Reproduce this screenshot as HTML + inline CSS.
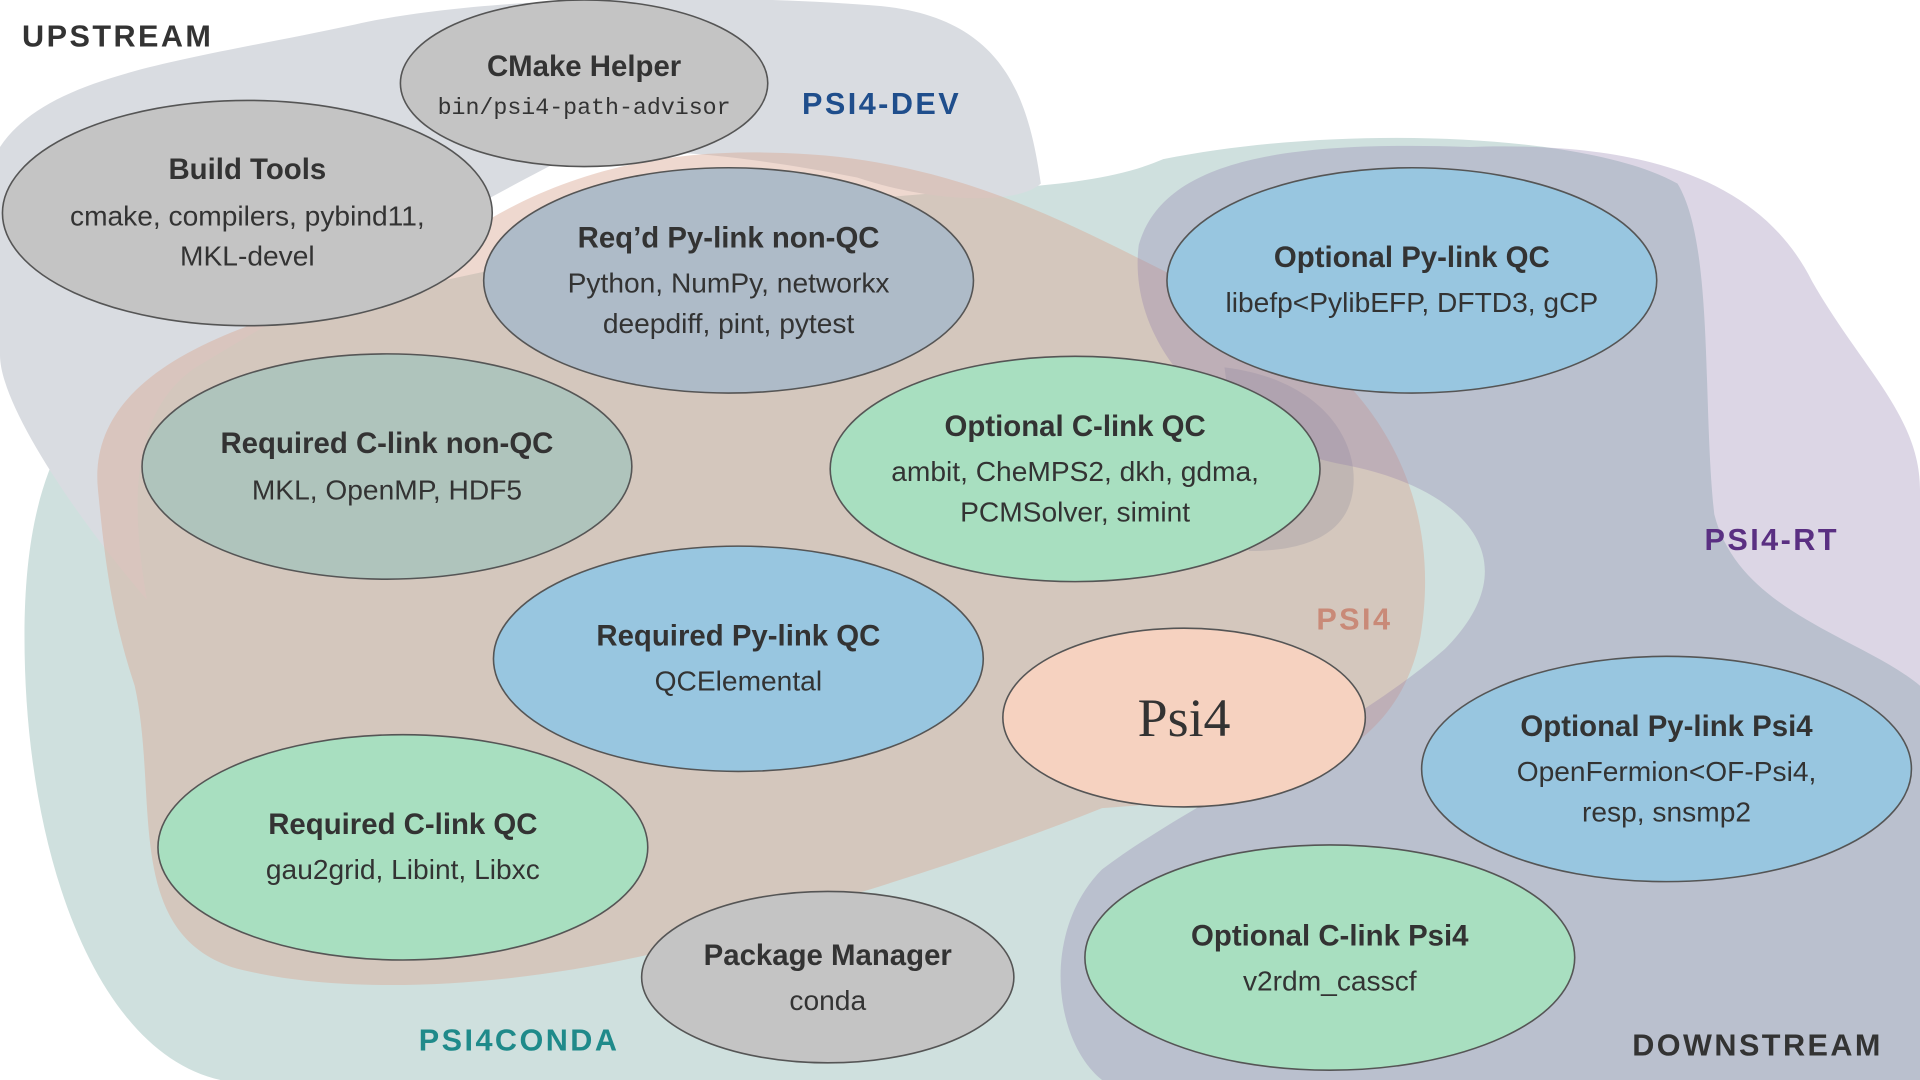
<!DOCTYPE html>
<html><head><meta charset="utf-8"><style>
html,body{margin:0;padding:0;width:1920px;height:1080px;overflow:hidden;background:#fff}
svg{display:block}
text{font-family:"Liberation Sans",sans-serif}
.t{font-weight:bold;font-size:24px;fill:#333;text-anchor:middle}
.b{font-size:23px;fill:#333;text-anchor:middle}
.m{font-family:"Liberation Mono",monospace;font-size:19px;fill:#333;text-anchor:middle}
.l{font-weight:bold;font-size:25px;letter-spacing:2px}
ellipse{stroke:#555;stroke-width:1.3}
</style></head><body>
<svg width="1920" height="1080" viewBox="0 0 1568 882" preserveAspectRatio="none">
<rect width="1568" height="882" fill="#fff"/>
<!-- PSI4CONDA teal -->
<path d="M20,520 C20,400 50,320 140,280 C300,240 500,200 650,170 C780,150 880,160 950,130 C1100,100 1300,110 1370,150 C1400,200 1390,330 1400,420 C1420,500 1520,520 1568,560 L1568,882 L180,882 C80,860 20,700 20,520 Z" fill="#cfe0de"/>
<!-- PSI4-DEV gray -->
<path d="M0,120 C40,60 150,50 290,20 C400,-5 600,-5 720,5 C820,15 840,80 850,150 C830,168 760,165 700,145 C600,125 520,120 470,125 C380,170 260,240 160,300 C100,340 110,430 120,490 C60,420 0,330 0,290 Z" fill="#d9dce1"/>
<!-- PSI4 salmon -->
<path d="M80,400 C70,300 200,260 330,230 C420,150 520,120 640,125 C800,130 900,200 1010,250 C1120,300 1180,400 1160,520 C1140,620 1050,650 900,660 C800,700 700,730 600,760 C480,800 300,820 190,790 C100,760 130,650 110,560 C90,500 85,450 80,400 Z" fill="#d9a894" fill-opacity="0.45"/>
<!-- gray patch near opt C-link QC -->
<path d="M1000,300 C1080,310 1110,360 1105,400 C1100,440 1060,450 1020,450 Z" fill="#a8a2a6" fill-opacity="0.45"/>
<!-- PSI4-RT purple -->
<path d="M930,200 C950,130 1050,115 1200,120 C1350,115 1440,150 1480,230 C1520,300 1568,340 1568,400 L1568,882 L900,882 C860,850 850,760 900,710 C980,650 1100,600 1180,530 C1250,460 1200,400 1100,380 C990,360 920,280 930,200 Z" fill="#8a76a8" fill-opacity="0.3"/>

<text class="l" x="18" y="38" fill="#333">UPSTREAM</text>
<text class="l" x="655" y="93" fill="#1f4e8c">PSI4-DEV</text>
<text class="l" x="1075" y="514" fill="#c98a78">PSI4</text>
<text class="l" x="1392" y="449" fill="#5a2f82">PSI4-RT</text>
<text class="l" x="342" y="858" fill="#1f8a8a">PSI4CONDA</text>
<text class="l" x="1333" y="862" fill="#333">DOWNSTREAM</text>

<ellipse cx="477" cy="68" rx="150" ry="68" fill="#c4c4c4"/>
<text class="t" x="477" y="62">CMake Helper</text>
<text class="m" x="477" y="93">bin/psi4-path-advisor</text>

<ellipse cx="202" cy="174" rx="200" ry="92" fill="#c4c4c4"/>
<text class="t" x="202" y="146">Build Tools</text>
<text class="b" x="202" y="184">cmake, compilers, pybind11,</text>
<text class="b" x="202" y="217">MKL-devel</text>

<ellipse cx="595" cy="229" rx="200" ry="92" fill="#aebbc8"/>
<text class="t" x="595" y="202">Req’d Py-link non-QC</text>
<text class="b" x="595" y="239">Python, NumPy, networkx</text>
<text class="b" x="595" y="272">deepdiff, pint, pytest</text>

<ellipse cx="1153" cy="229" rx="200" ry="92" fill="#98c6e0"/>
<text class="t" x="1153" y="218">Optional Py-link QC</text>
<text class="b" x="1153" y="255">libefp&lt;PylibEFP, DFTD3, gCP</text>

<ellipse cx="316" cy="381" rx="200" ry="92" fill="#afc4bc"/>
<text class="t" x="316" y="370">Required C-link non-QC</text>
<text class="b" x="316" y="408">MKL, OpenMP, HDF5</text>

<ellipse cx="878" cy="383" rx="200" ry="92" fill="#a8dfc0"/>
<text class="t" x="878" y="356">Optional C-link QC</text>
<text class="b" x="878" y="393">ambit, CheMPS2, dkh, gdma,</text>
<text class="b" x="878" y="426">PCMSolver, simint</text>

<ellipse cx="603" cy="538" rx="200" ry="92" fill="#98c6e0"/>
<text class="t" x="603" y="527">Required Py-link QC</text>
<text class="b" x="603" y="564">QCElemental</text>

<ellipse cx="967" cy="586" rx="148" ry="73" fill="#f6d2c0"/>
<text x="967" y="601" text-anchor="middle" style="font-family:'Liberation Serif',serif;font-size:44px;fill:#333">Psi4</text>

<ellipse cx="1361" cy="628" rx="200" ry="92" fill="#98c6e0"/>
<text class="t" x="1361" y="601">Optional Py-link Psi4</text>
<text class="b" x="1361" y="638">OpenFermion&lt;OF-Psi4,</text>
<text class="b" x="1361" y="671">resp, snsmp2</text>

<ellipse cx="329" cy="692" rx="200" ry="92" fill="#a8dfc0"/>
<text class="t" x="329" y="681">Required C-link QC</text>
<text class="b" x="329" y="718">gau2grid, Libint, Libxc</text>

<ellipse cx="676" cy="798" rx="152" ry="70" fill="#c4c4c4"/>
<text class="t" x="676" y="788">Package Manager</text>
<text class="b" x="676" y="825">conda</text>

<ellipse cx="1086" cy="782" rx="200" ry="92" fill="#a8dfc0"/>
<text class="t" x="1086" y="772">Optional C-link Psi4</text>
<text class="b" x="1086" y="809">v2rdm_casscf</text>
</svg>
</body></html>
